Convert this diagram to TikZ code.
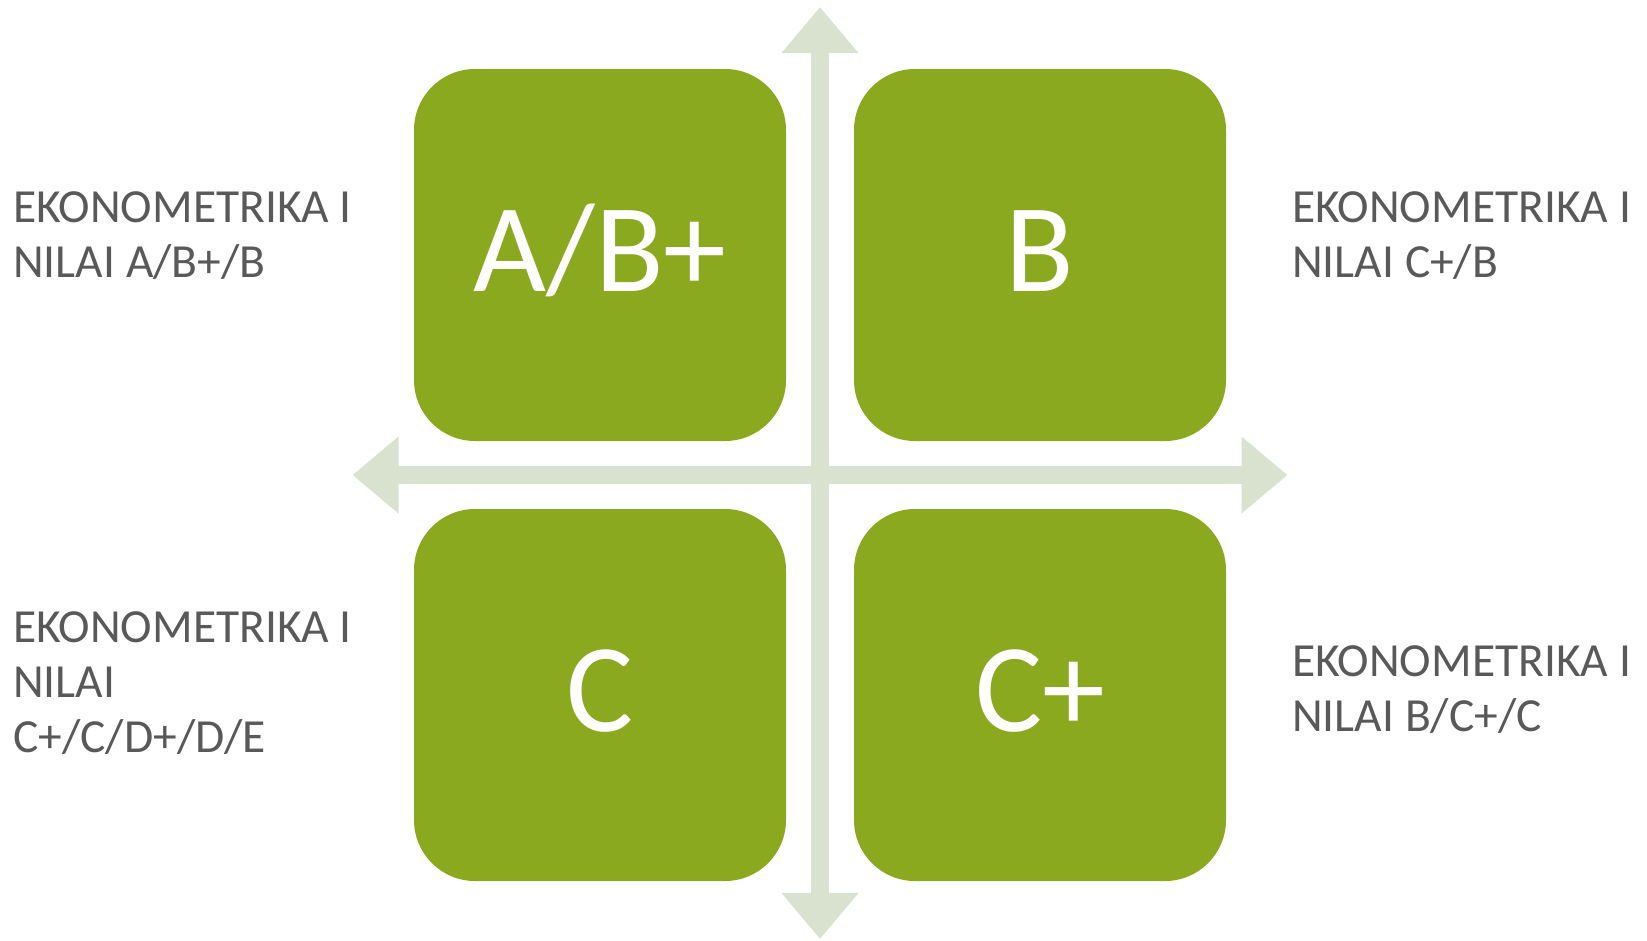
\documentclass[tikz,border=0pt]{standalone}
\usepackage{fontspec}
\setmainfont{Carlito}
\usetikzlibrary{arrows.meta}
\definecolor{boxgreen}{HTML}{8AA91F}
\definecolor{axisgreen}{HTML}{D9E2CF}
\definecolor{txtgray}{HTML}{595959}
\tikzset{
  quad/.style={fill=boxgreen, draw=none, rounded corners=61pt, minimum width=372pt, minimum height=372pt, inner sep=0pt},
  grade/.style={anchor=base, text=white, font=\fontsize{126}{130}\selectfont, inner sep=0pt},
  side/.style={anchor=base west, text=txtgray, font=\fontsize{47.5}{55}\selectfont, align=left, inner sep=0pt},
  axis/.style={draw=axisgreen, line width=18pt, {Triangle[width=74pt,length=46pt]}-{Triangle[width=74pt,length=46pt]}}
}
\begin{document}
\begin{tikzpicture}[x=1pt,y=-1pt]
\useasboundingbox (0,0) rectangle (1647,940);
% axes
\coordinate (vtop) at (820,7);
\coordinate (vbot) at (820,939);
\coordinate (hleft) at (352.5,475);
\coordinate (hright) at (1287.5,475);
\draw[axis] (vtop) -- (vbot);
\draw[axis] (hleft) -- (hright);
% boxes
\node[quad] (tl) at (600,255) {};
\node[quad] (tr) at (1040,255) {};
\node[quad] (bl) at (600,695) {};
\node[quad] (br) at (1040,695) {};
% grades
\node[grade] (gtl) at (600,291) {A/B+};
\node[grade] (gtr) at (1040,291) {B};
\node[grade] (gbl) at (600,731) {C};
\node[grade] (gbr) at (1040,731) {C+};
% side texts (base = baseline of last line)
\node[side] (ltop) at (13,277.3) {EKONOMETRIKA I\\NILAI A/B+/B};
\node[side] (rtop) at (1292,277.3) {EKONOMETRIKA I\\NILAI C+/B};
\node[side] (lbot) at (13,752.5) {EKONOMETRIKA I\\NILAI\\C+/C/D+/D/E};
\node[side] (rbot) at (1292,731.5) {EKONOMETRIKA I\\NILAI B/C+/C};
\end{tikzpicture}
\end{document}
